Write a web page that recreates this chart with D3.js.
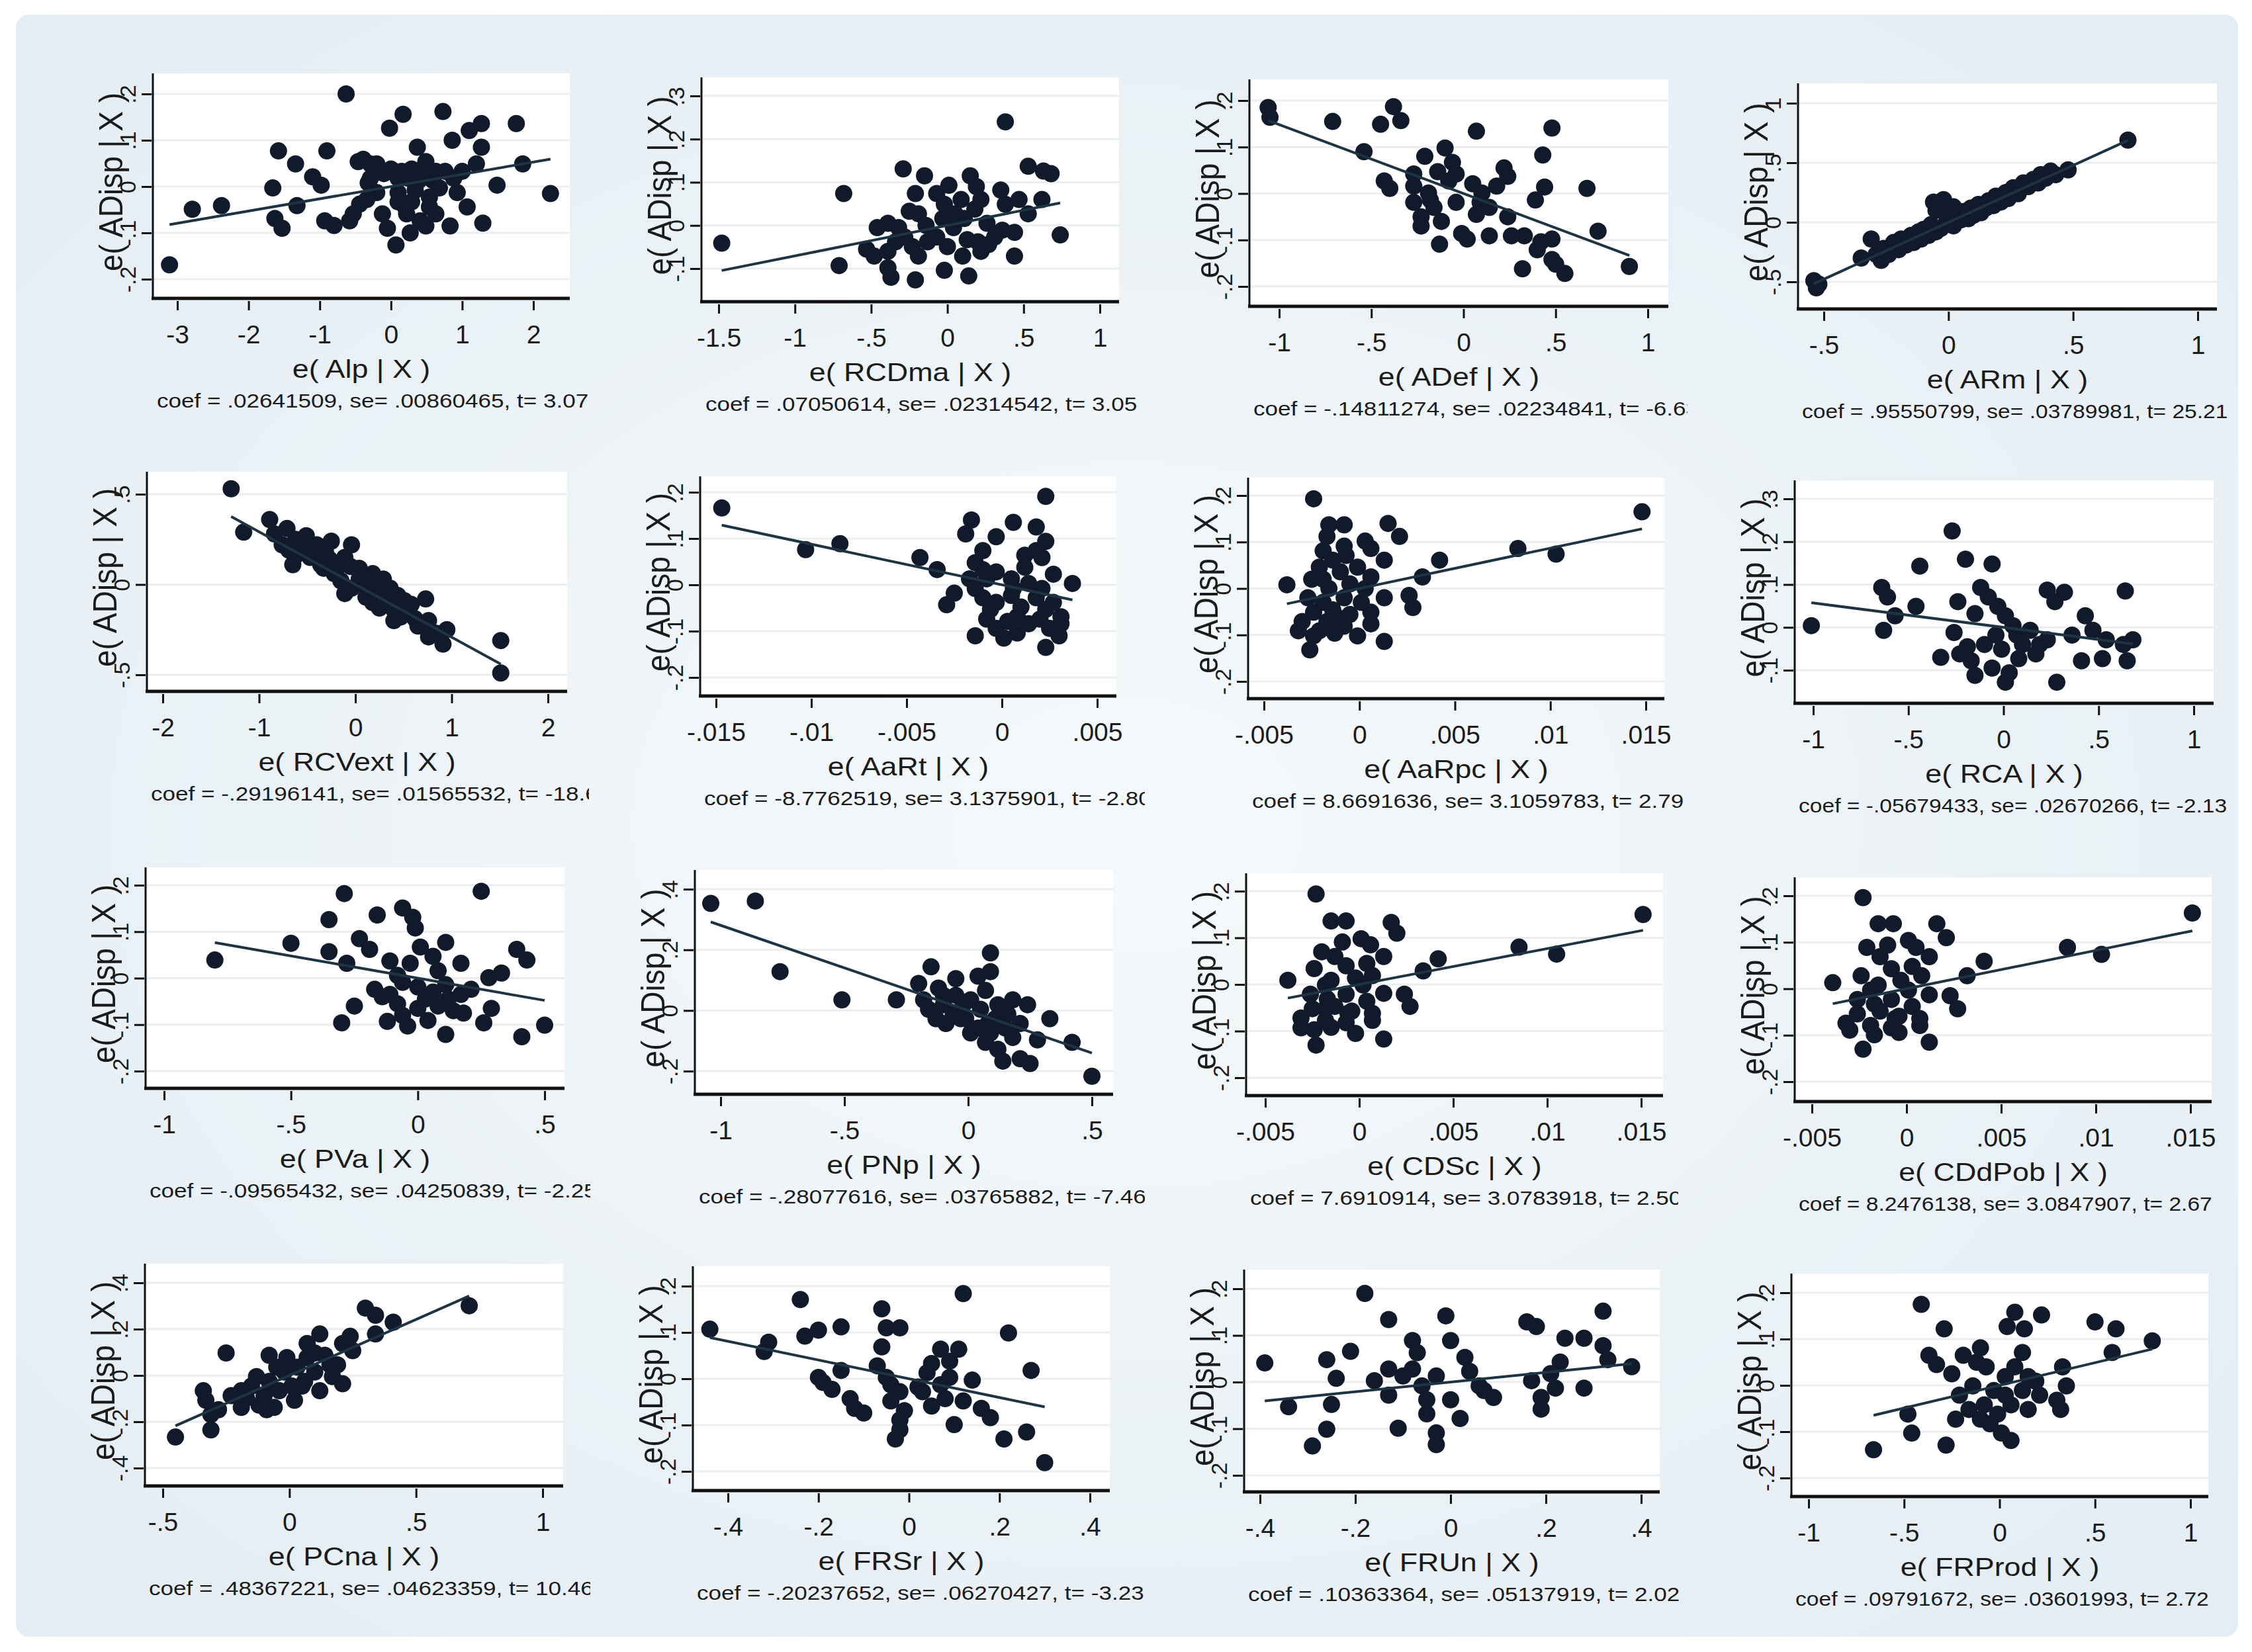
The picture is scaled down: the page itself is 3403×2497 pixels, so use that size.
<!DOCTYPE html>
<html>
<head>
<meta charset="utf-8">
<script src="https://cdn.jsdelivr.net/npm/d3@7"></script>
<style>
  html, body { margin: 0; padding: 0; background: #fff; }
  svg { display: block; }
  text { font-family: "Liberation Sans", Arial, sans-serif; fill: #1b1b1b; }
</style>
</head>
<body>
<svg id="chart" width="3403" height="2497"></svg>
<script>
// variable names of the 16 added-variable plots
const varNames = ["Alp", "RCDma", "ADef", "ARm", "RCVext", "AaRt", "AaRpc", "RCA",
                  "PVa", "PNp", "CDSc", "CDdPob", "PCna", "FRSr", "FRUn", "FRProd"];
const coefs = [.02641509, .07050614, -.14811274, .95550799, -.29196141, -8.7762519, 8.6691636, -.05679433,
               -.09565432, -.28077616, 7.6910914, 8.2476138, .48367221, -.20237652, .10363364, .09791672];
const coefLabels = [".02641509", ".07050614", "-.14811274", ".95550799", "-.29196141", "-8.7762519", "8.6691636", "-.05679433",
                    "-.09565432", "-.28077616", "7.6910914", "8.2476138", ".48367221", "-.20237652", ".10363364", ".09791672"];
const seLabels = [".00860465", ".02314542", ".02234841", ".03789981", ".01565532", "3.1375901", "3.1059783", ".02670266",
                  ".04250839", ".03765882", "3.0783918", "3.0847907", ".04623359", ".06270427", ".05137919", ".03601993"];
const tLabels = ["3.07", "3.05", "-6.63", "25.21", "-18.65", "-2.80", "2.79", "-2.13",
                 "-2.25", "-7.46", "2.50", "2.67", "10.46", "-3.23", "2.02", "2.72"];

const xTicks = [
  [-3, -2, -1, 0, 1, 2], [-1.5, -1, -.5, 0, .5, 1], [-1, -.5, 0, .5, 1], [-.5, 0, .5, 1],
  [-2, -1, 0, 1, 2], [-.015, -.01, -.005, 0, .005], [-.005, 0, .005, .01, .015], [-1, -.5, 0, .5, 1],
  [-1, -.5, 0, .5], [-1, -.5, 0, .5], [-.005, 0, .005, .01, .015], [-.005, 0, .005, .01, .015],
  [-.5, 0, .5, 1], [-.4, -.2, 0, .2, .4], [-.4, -.2, 0, .2, .4], [-1, -.5, 0, .5, 1]
];
const yTicks = [
  [-.2, -.1, 0, .1, .2], [-.1, 0, .1, .2, .3], [-.2, -.1, 0, .1, .2], [-.5, 0, .5, 1],
  [-.5, 0, .5], [-.2, -.1, 0, .1, .2], [-.2, -.1, 0, .1, .2], [-.1, 0, .1, .2, .3],
  [-.2, -.1, 0, .1, .2], [-.2, 0, .2, .4], [-.2, -.1, 0, .1, .2], [-.2, -.1, 0, .1, .2],
  [-.4, -.2, 0, .2, .4], [-.2, -.1, 0, .1, .2], [-.2, -.1, 0, .1, .2], [-.2, -.1, 0, .1, .2]
];

// residual pairs [e(X|X), e(ADisp|X)] per panel
const ptsAlp = [[-3.11,-.169],[-2.79,-.049],[-2.38,-.041],[-1.66,-.003],[-1.58,.077],[-1.63,-.069],[-1.53,-.09],[-1.34,.049],
  [-1.32,-.041],[-1.1,.021],[-.98,.003],[-.9,.077],[-.93,-.074],[-.8,-.084],[-.63,.2],[-.53,-.059],[-.44,-.038],[-.46,.054],
  [-.32,.008],[-.29,.049],[-.12,-.059],[-.05,-.09],[-.02,.126],[-.1,.028],[.07,-.126],[.1,-.013],[.17,.156],[.15,.033],
  [.2,-.044],[.27,-.1],[.29,.038],[.37,.085],[.34,-.008],[.41,-.074],[.49,.054],[.54,-.023],[.59,.013],[.63,-.059],
  [.73,.162],[.76,.033],[.83,-.085],[.86,.1],[.93,-.013],[1,.033],[1.07,-.044],[1.1,.121],[1.2,.049],[1.27,.085],
  [1.29,-.079],[1.27,.136],[1.49,.003],[1.76,.136],[1.85,.049],[2.24,-.015],[-.39,.059],[-.2,.049],[0,.038],[.1,.018],
  [.24,.018],[.44,.038],[.63,.033],[.68,-.003],[.54,-.044],[.29,-.033],[.1,-.033],[.49,-.085],[.39,.013],[-.29,.018],
  [-.2,-.013],[-.34,-.028],[-.58,-.074],[.22,-.059],[.88,.018]];
const ptsRCDma = [[-1.48,-.041],[-.68,.074],[-.71,-.093],[.38,.24],[-.29,.131],[-.15,.115],[-.21,.074],[-.07,.074],
  [.01,.093],[.15,.115],[.19,.09],[.35,.082],[.53,.137],[.63,.126],[.68,.12],[.62,.06],[.53,.027],[.38,.049],[-.25,.033],
  [-.19,.027],[-.02,.049],[.05,.027],[.18,.038],[.26,.005],[-.46,-.005],[-.39,.005],[-.32,-.005],[-.53,-.055],[-.48,-.071],
  [-.39,-.098],[-.37,-.12],[-.21,-.126],[-.02,-.104],[.14,-.117],[.1,-.071],[.22,-.06],[.44,-.071],[.44,-.016],[.74,-.022],
  [.31,-.027],[.13,-.033],[0,-.049],[-.13,-.038],[-.23,-.049],[-.28,-.027],[-.19,-.071],[-.07,-.027],[.04,-.005],
  [.2,-.038],[.27,-.044],[.36,-.011],[.09,.06],[-.03,.016],[-.34,-.038],[-.39,-.06],[-.14,0],[.11,.016],[.47,.06],[.22,.06]];
const ptsADef = [[-1.06,.185],[-1.05,.164],[-.71,.155],[-.45,.149],[-.38,.187],[-.34,.157],[-.54,.09],[.07,.134],
  [.48,.141],[.43,.083],[-.1,.098],[-.21,.08],[-.06,.067],[-.14,.047],[.22,.055],[.24,.037],[-.43,.027],[-.4,.011],
  [-.27,.016],[-.19,.001],[-.08,.027],[.05,.021],[.18,.016],[.44,.014],[.67,.011],[-.27,-.019],[-.16,-.03],[-.04,-.019],
  [.09,-.019],[.39,-.014],[-.23,-.05],[-.12,-.06],[.07,-.045],[.24,-.05],[-.23,-.07],[-.01,-.086],[.14,-.091],[.26,-.091],
  [.33,-.091],[-.13,-.109],[.02,-.098],[.73,-.081],[.42,-.104],[.48,-.098],[.4,-.121],[.48,-.142],[.32,-.162],[.55,-.172],
  [.9,-.157],[.5,-.152],[-.27,.042],[-.04,.042],[.1,.001],[-.18,-.014],[.14,-.03]];
const ptsARm = [[-.54,-.49],[-.53,-.55],[-.52,-.52],[-.35,-.3],[-.31,-.14],[-.27,-.32],[-.26,-.22],[-.24,-.27],[-.22,-.17],
  [-.2,-.23],[-.19,-.14],[-.17,-.19],[-.15,-.11],[-.14,-.17],[-.12,-.08],[-.11,-.14],[-.1,-.06],[-.08,-.11],[-.07,-.02],
  [-.05,-.08],[-.05,.1],[-.03,-.05],[-.02,.19],[-.01,-.01],[-.01,.15],[.02,-.03],[.02,.13],[.05,.02],[.06,.09],[.08,.03],
  [.09,.12],[.1,.06],[.12,.15],[.13,.08],[.15,.12],[.16,.18],[.18,.14],[.19,.22],[.21,.17],[.23,.25],[.24,.2],[.26,.29],
  [.28,.24],[.3,.33],[.32,.3],[.34,.36],[.36,.33],[.37,.4],[.39,.37],[.41,.43],[.43,.4],[.48,.44],[.72,.69],[-.29,-.27],
  [-.21,-.2],[-.13,-.12],[-.06,-.05],[.01,.02],[.07,.06],[.14,.13],[.22,.21],[-.16,-.14],[.11,.1],[-.06,.17],[0,.09]];
const ptsRCVext = [[-1.29,.53],[-1.16,.29],[-.89,.36],[-.71,.31],[-.76,.22],[-.62,.25],[-.51,.19],[-.65,.11],[-.62,.16],
  [-.4,.22],[-.31,.18],[-.27,.14],[-.04,.22],[-.05,.1],[-.22,.06],[-.15,.02],[.04,.03],[.18,-.02],[.29,.03],[-.11,-.05],
  [.11,-.07],[.33,-.07],[.44,-.06],[.4,-.14],[.55,-.15],[.73,-.08],[.62,-.19],[.76,-.2],[.76,-.29],[.91,-.33],[.95,-.25],
  [1.51,-.31],[1.51,-.49],[-.47,.15],[-.36,.11],[-.18,.1],[.04,.09],[.18,.06],[.22,.01],[.36,-.02],[.51,-.09],[.65,-.23],
  [.47,-.18],[.58,-.11],[-.51,.27],[-.4,.18],[-.25,.24],[-.11,.15],[.11,-.01],[.29,-.05],[.25,-.13],[.4,-.2],[.84,-.27],
  [-.84,.28],[-.69,.19],[-.33,.09],[-.04,-.02],[.18,-.1]];
const ptsAaRt = [[-.0147,.166],[-.0103,.076],[-.0085,.089],[-.0043,.059],[-.0034,.033],[-.0025,-.018],[-.0029,-.043],
  [-.0016,.14],[-.0019,.11],[-.0014,-.11],[-.0003,.104],[.0006,.135],[.0018,.125],[.0023,.191],[.0023,.094],[.0018,.074],
  [.0021,.059],[.0037,.003],[.0027,.023],[-.0014,.048],[-.001,.033],[-.0008,.013],[-.0003,.028],[.0005,.013],[.0012,.038],
  [.0014,.003],[-.001,-.028],[-.0003,-.038],[.0005,-.023],[.001,-.048],[.0018,-.028],[.0023,-.053],[.0027,-.038],
  [-.0008,-.074],[-.0003,-.094],[.0003,-.079],[.0008,-.069],[.0014,-.084],[.002,-.074],[.0025,-.094],[.0031,-.084],
  [.003,-.11],[.0023,-.135],[.0008,-.104],[.0001,-.115],[-.0006,-.053],[-.0014,-.008],[-.0017,.013],[.0012,.064],
  [.0006,-.008],[.0021,-.008],[.0031,-.069],[-.001,.074]];
const ptsAaRpc = [[-.0024,.193],[.0148,.165],[-.0016,.137],[-.0008,.137],[.0015,.14],[.0021,.112],[.0003,.102],[.0006,.086],
  [.0013,.061],[.0083,.086],[.0103,.074],[.0042,.061],[.0033,.025],[-.0038,.008],[-.0025,.02],[-.0019,.081],[-.0014,.061],
  [-.0007,.071],[-.0021,.046],[-.001,.036],[-.0001,.046],[.0006,.025],[-.0016,0],[-.0005,.01],[.0013,-.02],[.0026,-.015],
  [.0028,-.041],[-.0027,-.02],[-.0019,-.03],[-.0008,-.02],[.0001,-.03],[-.0024,-.051],[-.0014,-.046],[-.0005,-.056],
  [.0006,-.051],[-.003,-.071],[-.0017,-.071],[-.0008,-.081],[.0006,-.076],[-.0032,-.091],[-.0024,-.102],[-.0013,-.096],
  [-.0001,-.102],[-.0026,-.132],[.0013,-.114],[-.0021,-.091],[-.0012,-.061],[.0003,0],[-.0019,.02],[-.0008,.091],
  [-.0017,.112]];
const ptsRCA = [[-1.01,.004],[-.27,.225],[-.2,.159],[-.06,.148],[-.44,.143],[-.64,.093],[-.61,.071],[-.57,.027],[-.63,-.007],
  [-.46,.049],[-.24,.06],[-.15,.032],[-.12,.093],[-.08,.071],[-.03,.049],[.01,.027],[.05,.004],[.23,.087],[.32,.082],
  [.27,.06],[.64,.085],[.43,.027],[.47,-.007],[.54,-.029],[.63,-.04],[.68,-.029],[-.26,-.012],[-.33,-.07],[-.23,-.062],
  [-.17,-.078],[-.15,-.112],[-.06,-.095],[.01,-.128],[.03,-.106],[.1,-.04],[.17,-.062],[.23,-.029],[.28,-.128],[.41,-.078],
  [.52,-.073],[.65,-.078],[-.04,-.018],[-.1,-.04],[.07,-.018],[.14,-.007],[.19,-.04],[.36,-.018],[-.19,-.045],[-.01,-.051],
  [.08,-.073]];
const ptsPVa = [[-.8,.039],[-.5,.075],[-.29,.182],[-.35,.126],[-.16,.136],[-.06,.151],[-.02,.131],[.25,.187],[-.01,.108],
  [-.23,.085],[-.19,.062],[-.35,.057],[-.28,.032],[-.11,.037],[.01,.067],[.06,.047],[.11,.077],[.17,.032],[.39,.062],
  [.43,.039],[.33,.011],[.28,.001],[-.17,-.024],[-.11,-.035],[-.06,-.009],[0,-.019],[.06,-.03],[.11,-.014],[.17,-.035],
  [.21,-.024],[-.25,-.06],[-.08,-.055],[0,-.065],[.08,-.06],[.18,-.075],[.29,-.065],[-.3,-.096],[-.12,-.093],[-.04,-.103],
  [.04,-.091],[.26,-.096],[.11,-.121],[.41,-.126],[.5,-.101],[-.14,-.04],[.03,-.045],[.12,-.045],[-.08,.006],[.08,.016],
  [-.03,.032],[.14,-.07],[-.06,-.08]];
const ptsPNp = [[-1.04,.353],[-.86,.361],[-.76,.128],[-.51,.035],[-.29,.035],[-.15,.144],[.09,.19],[-.2,.089],[-.12,.074],
  [-.05,.105],[.04,.113],[.09,.128],[-.18,.035],[-.1,.019],[-.05,.05],[.01,.035],[.07,.066],[-.13,-.027],[-.06,-.012],
  [-.01,-.027],[.05,.004],[.12,.019],[.16,-.012],[.24,.019],[.33,-.027],[.04,-.058],[.09,-.074],[.15,-.058],[.21,-.043],
  [.28,-.097],[.42,-.105],[.07,-.105],[.12,-.128],[.14,-.167],[.21,-.159],[.25,-.175],[.5,-.217],[-.1,.05],[-.02,.019],
  [-.16,.004],[-.09,-.043],[.01,-.074],[.18,-.089],[.11,-.027],[.18,.035],[-.03,-.027],[.08,-.043]];
const ptsCDSc = [[-.0023,.194],[.0151,.15],[-.0015,.136],[-.0007,.136],[.0017,.133],[.002,.11],[.0001,.098],[.0006,.085],
  [.0013,.06],[.0085,.08],[.0105,.065],[.0042,.055],[.0034,.029],[-.0038,.009],[-.002,.07],[-.0013,.06],[-.0024,.034],
  [-.0007,.04],[.0004,.045],[.0007,.019],[-.0015,.009],[-.0002,.014],[.0013,-.019],[.0024,-.021],[.0027,-.047],
  [-.0026,-.021],[-.0017,-.031],[-.0007,-.021],[.0004,-.036],[-.0025,-.052],[-.0013,-.047],[-.0004,-.057],[.0007,-.062],
  [-.0031,-.072],[-.0018,-.077],[-.0007,-.082],[.0007,-.077],[-.0031,-.093],[-.0024,-.097],[-.0015,-.092],[-.0002,-.105],
  [-.0023,-.13],[.0013,-.117],[-.0018,-.001],[-.0009,.091],[-.0006,-.062],[-.0018,-.052],[.0002,-.001]];
const ptsCDdPob = [[-.0023,.196],[.0151,.163],[-.0015,.14],[-.0007,.14],[.0016,.14],[.0021,.11],[.0001,.104],[.0005,.089],
  [.0012,.069],[.0085,.089],[.0103,.074],[.0041,.059],[.0032,.028],[-.0039,.013],[-.0021,.089],[-.0014,.069],[-.0024,.028],
  [-.0008,.043],[.0003,.048],[.0008,.028],[-.0015,.008],[-.0003,.018],[.0012,-.013],[.0023,-.015],[.0027,-.043],
  [-.0026,-.023],[-.0017,-.033],[-.0008,-.023],[.0003,-.038],[-.0026,-.054],[-.0014,-.048],[-.0004,-.059],[.0007,-.064],
  [-.0032,-.074],[-.0019,-.079],[-.0008,-.084],[.0007,-.079],[-.003,-.089],[-.0017,-.099],[-.0004,-.094],[.0012,-.115],
  [-.0023,-.13],[-.0019,-.003],[-.001,.094],[-.0006,-.064],[.0001,-.003]];
const ptsPCna = [[-.45,-.266],[-.31,-.235],[-.31,-.169],[-.34,-.066],[-.33,-.107],[-.28,-.148],[-.25,.097],[-.19,-.138],
  [-.17,-.097],[-.15,-.046],[-.12,-.128],[-.1,-.087],[-.08,-.026],[-.08,.087],[-.06,-.138],[-.04,-.066],[-.02,.015],
  [.01,-.046],[.02,-.107],[.03,.036],[.06,-.026],[.07,.077],[.1,.015],[.12,.179],[.12,-.066],[.14,.087],[.17,-.005],
  [.19,.046],[.21,-.036],[.21,.138],[.24,.169],[.25,.107],[.3,.291],[.34,.26],[.34,.179],[.41,.23],[.71,.301],[.07,.138],
  [-.05,.036],[-.13,-.005],[-.23,-.087],[.05,-.046],[.16,.046],[.1,.097],[-.09,-.148],[-.19,-.066],[-.01,.077]];
const ptsFRSr = [[-.44,.107],[-.24,.171],[.12,.184],[-.06,.151],[-.15,.112],[-.2,.105],[-.23,.092],[.22,.099],[-.31,.079],
  [-.32,.059],[-.05,.11],[-.02,.11],[-.06,.069],[.07,.064],[.11,.064],[.27,.018],[-.07,.028],[.05,.033],[.09,.038],
  [.04,.013],[.09,.003],[.14,-.003],[-.2,.003],[-.19,-.008],[-.15,.018],[-.17,-.023],[-.13,-.043],[-.12,-.064],[-.1,-.074],
  [-.04,-.013],[-.02,-.028],[-.04,-.048],[-.01,-.069],[-.02,-.089],[-.02,-.11],[-.03,-.13],[.03,-.028],[.05,-.059],
  [.08,-.043],[.12,-.048],[.1,-.099],[.16,-.064],[.18,-.084],[.21,-.13],[.26,-.115],[.3,-.181],[-.05,.003],[.02,-.018],
  [.07,-.013]];
const ptsFRUn = [[-.39,.041],[-.34,-.053],[-.29,-.137],[-.26,-.101],[-.25,-.048],[-.26,.048],[-.24,.008],[-.21,.066],
  [-.18,.19],[-.13,.134],[-.13,.028],[-.13,-.028],[-.11,-.099],[-.08,.089],[-.07,.063],[-.08,.028],[-.06,-.008],
  [-.05,-.038],[-.05,-.068],[-.03,-.109],[-.03,-.134],[-.03,.013],[-.01,.142],[0,.089],[0,-.038],[.02,-.078],[.03,.053],
  [.04,.023],[.07,-.018],[.09,-.033],[.16,.129],[.18,.119],[.17,.003],[.19,-.033],[.19,-.058],[.22,-.013],[.23,.043],
  [.24,.094],[.28,.094],[.32,.078],[.28,-.013],[.32,.152],[.33,.048],[.38,.033],[-.1,.013],[.06,-.008],[.21,.018],
  [-.16,.003]];
const ptsFRProd = [[-.66,-.139],[-.41,.175],[-.29,.122],[-.37,.065],[-.33,.045],[-.48,-.062],[-.46,-.103],[-.28,-.129],
  [-.25,.025],[-.21,-.021],[-.19,.065],[-.1,.081],[-.23,-.073],[-.14,-.001],[-.16,-.052],[-.08,-.042],[-.07,.04],
  [-.03,-.011],[-.05,-.083],[.01,-.103],[.06,-.119],[.08,.158],[.04,.127],[.13,.122],[.22,.152],[.12,.071],[.08,.04],
  [.03,.019],[.15,.019],[.12,-.011],[.06,-.042],[.15,-.052],[.21,-.021],[.32,-.052],[.3,-.032],[.35,-.001],[.33,.04],
  [.5,.137],[.61,.122],[.59,.071],[.8,.096],[-.01,-.062],[-.1,-.073],[.03,-.021],[-.12,.05],[.19,.009]];

const panelPoints = [ptsAlp, ptsRCDma, ptsADef, ptsARm, ptsRCVext, ptsAaRt, ptsAaRpc, ptsRCA,
                     ptsPVa, ptsPNp, ptsCDSc, ptsCDdPob, ptsPCna, ptsFRSr, ptsFRUn, ptsFRProd];

// plot frames in page pixels, plus two tick anchors for each scale (value, pixel, value, pixel)
const layout = [
  {l: 231, t: 111, r: 861, b: 451, xa: [-3, 268, 2, 806], ya: [.2, 142, -.2, 422]},
  {l: 1060, t: 117, r: 1691, b: 456, xa: [-1.5, 1086, 1, 1662], ya: [.3, 145, -.1, 406]},
  {l: 1888, t: 120, r: 2521, b: 463, xa: [-1, 1933, 1, 2490], ya: [.2, 152, -.2, 433]},
  {l: 2717, t: 126, r: 3350, b: 467, xa: [-.5, 2756, 1, 3321], ya: [1, 156, -.5, 426]},
  {l: 222, t: 713, r: 857, b: 1045, xa: [-2, 246, 2, 828], ya: [.5, 747, -.5, 1020]},
  {l: 1058, t: 720, r: 1687, b: 1052, xa: [-.015, 1082, .005, 1658], ya: [.2, 744, -.2, 1024]},
  {l: 1886, t: 722, r: 2515, b: 1056, xa: [-.005, 1910, .015, 2487], ya: [.2, 749, -.2, 1030]},
  {l: 2712, t: 726, r: 3345, b: 1063, xa: [-1, 2740, 1, 3315], ya: [.3, 754, -.1, 1013]},
  {l: 220, t: 1311, r: 853, b: 1645, xa: [-1, 248, .5, 823], ya: [.2, 1338, -.2, 1619]},
  {l: 1050, t: 1315, r: 1682, b: 1654, xa: [-1, 1089, .5, 1650], ya: [.4, 1344, -.2, 1619]},
  {l: 1883, t: 1320, r: 2513, b: 1656, xa: [-.005, 1912, .015, 2480], ya: [.2, 1347, -.2, 1629]},
  {l: 2712, t: 1326, r: 3342, b: 1665, xa: [-.005, 2738, .015, 3310], ya: [.2, 1354, -.2, 1635]},
  {l: 219, t: 1910, r: 851, b: 2246, xa: [-.5, 246, 1, 820], ya: [.4, 1939, -.4, 2219]},
  {l: 1047, t: 1914, r: 1677, b: 2253, xa: [-.4, 1100, .4, 1647], ya: [.2, 1944, -.2, 2224]},
  {l: 1880, t: 1919, r: 2508, b: 2255, xa: [-.4, 1904, .4, 2480], ya: [.2, 1948, -.2, 2230]},
  {l: 2707, t: 1925, r: 3337, b: 2262, xa: [-1, 2733, 1, 3310], ya: [.2, 1954, -.2, 2234]}
];
// right edge where a panel's note runs into the next panel in the source figure
const noteClip = [3403, 3403, 2550, 3403, 890, 1730, 3403, 3403, 892, 1730, 2536, 3403, 892, 1730, 3403, 3403];

// Stata style numbers: .5, -.005
const fmt = v => String(v).replace('0.', '.');

const svg = d3.select('#chart');
const defs = svg.append('defs');

const bg = defs.append('radialGradient').attr('id', 'bg').attr('cx', '50%').attr('cy', '50%').attr('r', '75%');
bg.append('stop').attr('offset', '0%').attr('stop-color', '#f5f9fb');
bg.append('stop').attr('offset', '100%').attr('stop-color', '#e2ecf3');

svg.append('rect')
    .attr('x', 24).attr('y', 22)
    .attr('width', 3358).attr('height', 2452)
    .attr('rx', 20)
    .attr('fill', 'url(#bg)');

noteClip.forEach((cx, i) => {
    defs.append('clipPath').attr('id', 'clip' + i)
        .attr('clipPathUnits', 'userSpaceOnUse')
        .append('rect').attr('x', 0).attr('y', 0).attr('width', cx).attr('height', 2497);
});

panelPoints.forEach((pts, i) => {
    const L = layout[i];
    const x = d3.scaleLinear().domain([L.xa[0], L.xa[2]]).range([L.xa[1], L.xa[3]]);
    const y = d3.scaleLinear().domain([L.ya[0], L.ya[2]]).range([L.ya[1], L.ya[3]]);
    const g = svg.append('g').attr('class', 'panel');

    // white plot region
    g.append('rect')
        .attr('x', L.l).attr('y', L.t)
        .attr('width', L.r - L.l).attr('height', L.b - L.t)
        .attr('fill', '#ffffff');

    // horizontal grid
    g.selectAll('.grid')
        .data(yTicks[i])
        .enter().append('line')
        .attr('class', 'grid')
        .attr('x1', L.l).attr('x2', L.r)
        .attr('y1', d => y(d)).attr('y2', d => y(d))
        .attr('stroke', '#ebedef')
        .attr('stroke-width', 3);

    // points
    g.selectAll('.pt')
        .data(pts)
        .enter().append('circle')
        .attr('class', 'pt')
        .attr('cx', d => x(d[0]))
        .attr('cy', d => y(d[1]))
        .attr('r', 13)
        .attr('fill', '#101a2a');

    // fitted line through the origin with the reported slope
    const ext = d3.extent(pts, d => d[0]);
    g.append('line')
        .attr('x1', x(ext[0])).attr('y1', y(coefs[i] * ext[0]))
        .attr('x2', x(ext[1])).attr('y2', y(coefs[i] * ext[1]))
        .attr('stroke', '#1e3442')
        .attr('stroke-width', 4);

    // axis lines
    g.append('line')
        .attr('x1', L.l).attr('x2', L.l).attr('y1', L.t).attr('y2', L.b)
        .attr('stroke', '#111').attr('stroke-width', 3);
    g.append('line')
        .attr('x1', L.l - 2).attr('x2', L.r).attr('y1', L.b).attr('y2', L.b)
        .attr('stroke', '#111').attr('stroke-width', 5);

    // x axis ticks and labels
    const xAxis = g.append('g')
        .attr('transform', `translate(0,${L.b + 4})`)
        .call(d3.axisBottom(x).tickValues(xTicks[i]).tickFormat(fmt).tickSize(14).tickPadding(0));
    xAxis.select('.domain').remove();
    xAxis.selectAll('line').attr('stroke', '#111').attr('stroke-width', 3);
    xAxis.selectAll('text')
        .attr('y', null).attr('dy', '0.35em')
        .attr('transform', 'translate(0,50)')
        .attr('fill', '#1b1b1b')
        .style('font-size', '39px');

    // y axis ticks and rotated labels
    const yAxis = g.append('g')
        .attr('transform', `translate(${L.l - 2},0)`)
        .call(d3.axisLeft(y).tickValues(yTicks[i]).tickFormat(fmt).tickSize(15).tickPadding(0));
    yAxis.select('.domain').remove();
    yAxis.selectAll('line').attr('stroke', '#111').attr('stroke-width', 3);
    yAxis.selectAll('text')
        .attr('x', null).attr('dy', '0.35em')
        .attr('text-anchor', 'middle')
        .attr('transform', 'translate(-36,0) rotate(-90)')
        .attr('fill', '#1b1b1b')
        .style('font-size', '34px');

    // axis titles
    g.append('text')
        .attr('transform', `translate(${(L.l + L.r) / 2},${L.b + 106}) scale(1.15,1)`)
        .attr('text-anchor', 'middle')
        .attr('dy', '0.35em')
        .style('font-size', '39px')
        .text(`e( ${varNames[i]} | X )`);

    g.append('text')
        .attr('transform', `translate(${L.l - 64},${(L.t + L.b) / 2 - 6}) scale(1.1,1) rotate(-90)`)
        .attr('text-anchor', 'middle')
        .attr('dy', '0.35em')
        .style('font-size', '46px')
        .text('e( ADisp | X )');

    // regression note under each plot; the right column is squeezed to stay on the page
    const stretch = i % 4 === 3 ? 1.12 : 1.17;
    g.append('g')
        .attr('clip-path', `url(#clip${i})`)
        .append('text')
        .attr('transform', `translate(${L.l + 6},${L.b + 154}) scale(${stretch},1)`)
        .attr('dy', '0.35em')
        .attr('fill', '#111')
        .style('font-size', '30px')
        .text(`coef = ${coefLabels[i]}, se= ${seLabels[i]}, t= ${tLabels[i]}`);
});
</script>
</body>
</html>
